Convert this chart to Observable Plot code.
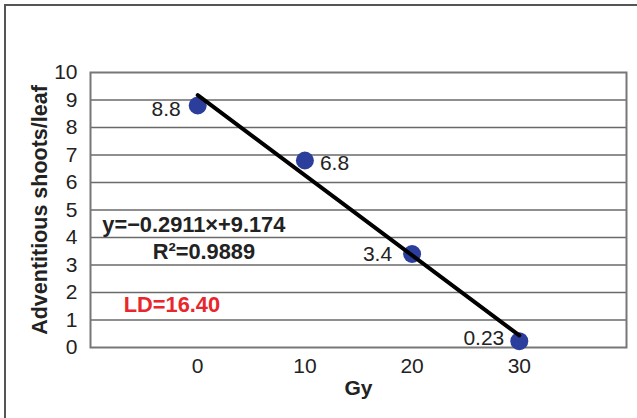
<!DOCTYPE html>
<html>
<head>
<meta charset="utf-8">
<script src="https://cdn.jsdelivr.net/npm/d3@7"></script>
<script src="https://cdn.jsdelivr.net/npm/@observablehq/plot@0.6"></script>
<style>
  body { margin: 0; background: #fff; }
  #wrap { position: relative; width: 637px; height: 418px; }
  #border { position: absolute; left: 4px; top: 4px; right: -10px; bottom: -10px;
            border-left: 2px solid #555; border-top: 2px solid #555; pointer-events: none; }
</style>
</head>
<body>
<div id="wrap"><div id="border"></div></div>
<script>
const doses = [0, 10, 20, 30];
const shoots = [8.8, 6.8, 3.4, 0.23];
const pointLabels = ["8.8", "6.8", "3.4", "0.23"];
const yTicks = [0, 1, 2, 3, 4, 5, 6, 7, 8, 9, 10];
const xTicks = [0, 10, 20, 30];
const slope = -0.2911;
const intercept = 9.174;
const fitRange = [0, 30];
const annotations = ["y=\u22120.2911\u00d7+9.174", "R\u00b2=0.9889", "LD=16.40"];
const annX = [-8.9, -4.2, -6.9];
const annY = [4.47, 3.49, 1.53];
const annColor = ["#222", "#222", "#e8262b"];
const labelDx = [-17, 15, -20, -15];
const labelDy = [4, 3, 0, -3];

const points = doses.map((d, i) => ({x: d, y: shoots[i], label: pointLabels[i], dx: labelDx[i], dy: labelDy[i]}));
const fit = fitRange.map(x => ({x, y: slope * x + intercept}));
const ann = annotations.map((t, i) => ({t, x: annX[i], y: annY[i], c: annColor[i]}));

const chart = Plot.plot({
  width: 637,
  height: 418,
  marginLeft: 90,
  marginRight: 11,
  marginTop: 72,
  marginBottom: 71,
  style: {fontFamily: "'Liberation Sans', Arial, sans-serif", background: "transparent", overflow: "visible"},
  x: {domain: [-10, 40]},
  y: {domain: [0, 10]},
  marks: [
    Plot.ruleY(yTicks.slice(1, -1), {stroke: "#6a6a6a", strokeWidth: 1.5}),
    Plot.frame({stroke: "#777", strokeWidth: 2}),
    Plot.axisY({ticks: yTicks, tickSize: 0, tickPadding: 13, fontSize: 21, label: null, fill: "#222"}),
    Plot.axisX({ticks: xTicks, tickSize: 0, tickPadding: 11, fontSize: 21, label: null, fill: "#222"}),
    Plot.text(["Adventitious shoots/leaf"], {frameAnchor: "left", dx: -50, rotate: -90, textAnchor: "middle", fontSize: 21.5, fontWeight: "bold", fill: "#222"}),
    Plot.text(["Gy"], {frameAnchor: "bottom", dy: 47, fontSize: 21, fontWeight: "bold", fill: "#222"}),
    Plot.dot(points, {x: "x", y: "y", r: 9, fill: "#2c3e9c", stroke: "none"}),
    Plot.line(fit, {x: "x", y: "y", stroke: "#000", strokeWidth: 4}),
    ...points.map(p => Plot.text([p], {x: "x", y: "y", text: "label", dx: p.dx, dy: p.dy, textAnchor: p.dx < 0 ? "end" : "start", fontSize: 21, fill: "#222"})),
    Plot.text(ann, {x: "x", y: "y", text: "t", fill: "c", textAnchor: "start", fontSize: 21.8, fontWeight: "bold"})
  ]
});
document.getElementById("wrap").prepend(chart);
</script>
</body>
</html>
